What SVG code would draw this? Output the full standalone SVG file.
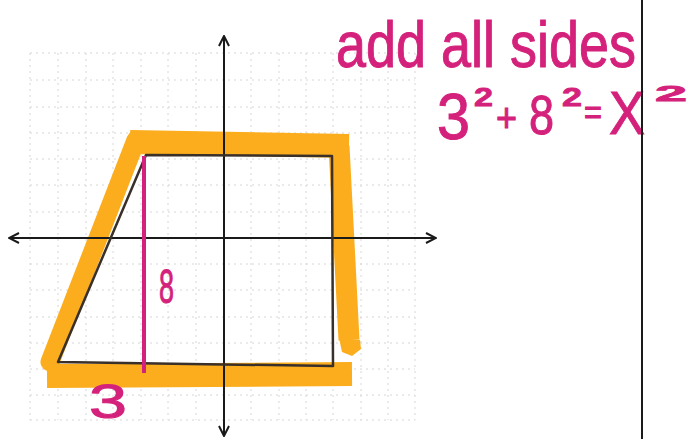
<svg xmlns="http://www.w3.org/2000/svg" width="691" height="439" viewBox="0 0 691 439">
<style>
.grid line{stroke:#d6d6d6;stroke-width:1;stroke-dasharray:2 4}
.axis{stroke:#1a1a1a;stroke-width:2;fill:none}
.hl{stroke:#FBAD1D;fill:none;stroke-linejoin:round}
.shape{stroke:#3a302a;stroke-width:2.5;fill:none;stroke-linejoin:round}
.ink{fill:#D4217B;stroke:#D4217B;stroke-width:1;font-family:'Liberation Sans',Arial,sans-serif}
.sup{font-weight:bold;stroke-width:0.8}
</style>
<defs>
<marker id="arr" viewBox="0 0 12 12" refX="11" refY="6" markerWidth="12" markerHeight="12" markerUnits="userSpaceOnUse" orient="auto-start-reverse">
<path d="M1 1 L11 6 L1 11" fill="none" stroke="#1a1a1a" stroke-width="2"/>
</marker>
</defs>
<rect width="691" height="439" fill="#fff"/>
<g id="grid" class="grid">
<line x1="30" y1="53" x2="30" y2="420"/><line x1="58" y1="53" x2="58" y2="420"/><line x1="86" y1="53" x2="86" y2="420"/><line x1="113" y1="53" x2="113" y2="420"/><line x1="141" y1="53" x2="141" y2="420"/><line x1="168" y1="53" x2="168" y2="420"/><line x1="196" y1="53" x2="196" y2="420"/><line x1="251" y1="53" x2="251" y2="420"/><line x1="279" y1="53" x2="279" y2="420"/><line x1="306" y1="53" x2="306" y2="420"/><line x1="333" y1="53" x2="333" y2="420"/><line x1="361" y1="53" x2="361" y2="420"/><line x1="388" y1="53" x2="388" y2="420"/><line x1="415" y1="53" x2="415" y2="420"/>
<line x1="30" y1="53" x2="415" y2="53"/><line x1="30" y1="80" x2="415" y2="80"/><line x1="30" y1="107" x2="415" y2="107"/><line x1="30" y1="133" x2="415" y2="133"/><line x1="30" y1="159" x2="415" y2="159"/><line x1="30" y1="185" x2="415" y2="185"/><line x1="30" y1="212" x2="415" y2="212"/><line x1="30" y1="264" x2="415" y2="264"/><line x1="30" y1="290" x2="415" y2="290"/><line x1="30" y1="317" x2="415" y2="317"/><line x1="30" y1="343" x2="415" y2="343"/><line x1="30" y1="369" x2="415" y2="369"/><line x1="30" y1="395" x2="415" y2="395"/><line x1="30" y1="420" x2="415" y2="420"/>
</g>
<g id="highlight">
<path class="hl" d="M50 362 L136 140" stroke-width="19" stroke-linecap="round"/>
<path class="hl" d="M130 142 L349 146" stroke-width="24"/>
<path class="hl" d="M339 146 L349 340" stroke-width="21"/>
<path d="M339 338 L360 340 L361 349 L352 356 L342 352 Z" fill="#FBAD1D"/>
<path class="hl" d="M47 376 L352 374" stroke-width="24"/>
</g>
<g id="axes">
<line class="axis" x1="224" y1="36" x2="224" y2="436" marker-start="url(#arr)" marker-end="url(#arr)"/>
<line class="axis" x1="9" y1="238" x2="436" y2="238" marker-start="url(#arr)" marker-end="url(#arr)"/>
</g>
<g id="trapezoid">
<path class="shape" d="M146 155 L332 156 L333 366 L58 362 Z"/>
</g>
<g id="height">
<line x1="144" y1="156" x2="144" y2="373" stroke="#D4217B" stroke-width="4"/>
<text class="ink" x="159" y="303" font-size="48" textLength="15" lengthAdjust="spacingAndGlyphs">8</text>
<text class="ink" x="89" y="418" font-size="48" textLength="38" lengthAdjust="spacingAndGlyphs">3</text>
</g>
<g id="notes">
<text class="ink" x="336" y="67" font-size="64" textLength="300" lengthAdjust="spacingAndGlyphs">add all sides</text>
<text class="ink" font-size="64"><tspan x="437" y="139" textLength="33" lengthAdjust="spacingAndGlyphs">3</tspan><tspan class="sup" x="474" y="106" font-size="26" textLength="19" lengthAdjust="spacingAndGlyphs">2</tspan><tspan x="496" y="132" font-size="40" textLength="21" lengthAdjust="spacingAndGlyphs">+</tspan><tspan x="529" y="134" font-size="56" textLength="25" lengthAdjust="spacingAndGlyphs">8</tspan><tspan class="sup" x="562" y="106" font-size="26" textLength="20" lengthAdjust="spacingAndGlyphs">2</tspan><tspan x="584" y="124" font-size="34" textLength="18" lengthAdjust="spacingAndGlyphs">=</tspan><tspan x="609" y="134" font-size="62" textLength="36" lengthAdjust="spacingAndGlyphs">X</tspan><tspan class="sup" x="655" y="101" font-size="22" textLength="32" lengthAdjust="spacingAndGlyphs">2</tspan></text>
</g>
<line id="divider" x1="642" y1="0" x2="642" y2="439" stroke="#1a1a1a" stroke-width="2"/>
</svg>
